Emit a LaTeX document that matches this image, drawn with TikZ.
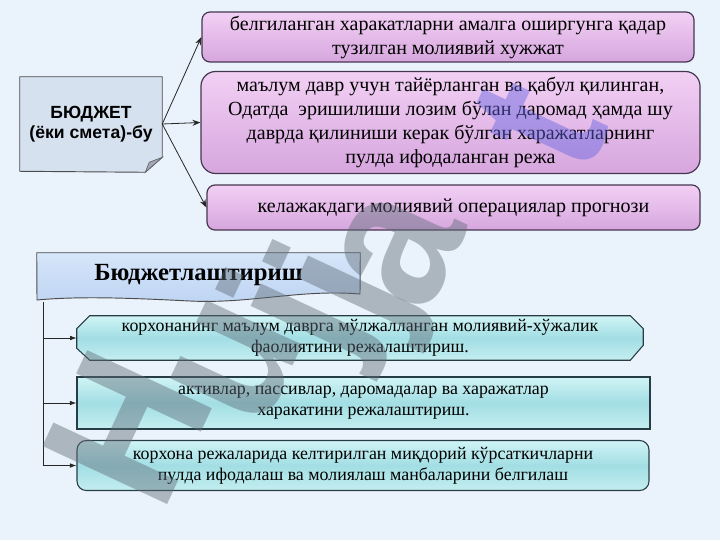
\documentclass[tikz,border=0pt]{standalone}
\usepackage{fontspec}
\setmainfont{Liberation Serif}
\setsansfont{Liberation Sans}
\usetikzlibrary{arrows.meta,backgrounds}
\definecolor{bg}{RGB}{234,243,251}
\definecolor{pTop}{RGB}{242,208,244}
\definecolor{pBot}{RGB}{214,166,222}
\definecolor{pDraw}{RGB}{70,55,80}
\definecolor{tTop}{RGB}{208,244,245}
\definecolor{tMid}{RGB}{162,222,228}
\definecolor{tBot}{RGB}{196,238,240}
\definecolor{tDraw}{RGB}{40,60,70}
\definecolor{noteFill}{RGB}{214,225,240}
\definecolor{foldFill}{RGB}{160,168,184}
\definecolor{banTop}{RGB}{214,230,250}
\definecolor{banBot}{RGB}{190,212,242}
\definecolor{wmGray}{RGB}{95,108,120}
\definecolor{wmBlue}{RGB}{100,100,225}
\tikzset{
  pbox/.style={draw=pDraw, line width=0.9pt, top color=pTop, bottom color=pBot,
    align=center, inner sep=0pt, font=\fontsize{15}{18}\selectfont},
  tshade/.style={draw=tDraw, line width=0.8pt, top color=tTop, bottom color=tBot, middle color=tMid},
  tbox/.style={align=center, inner sep=0pt, font=\fontsize{13.4}{15.75}\selectfont},
  arr/.style={-{Stealth[length=6pt,width=4.5pt]}, line width=0.6pt, draw=black!85},
  barr/.style={-{Latex[length=5pt,width=3.5pt]}, line width=0.6pt, draw=black!85},
  wmletter/.style={opacity=0.45, text=wmGray, inner sep=0pt, rotate=65, xscale=0.9,
    font=\sffamily\bfseries\fontsize{150}{150}\selectfont}
}
\begin{document}
\begin{tikzpicture}[x=0.75pt,y=-0.75pt]
\useasboundingbox (0,0) rectangle (720,540);
% purple boxes
\node[pbox, rounded corners=6pt, minimum width=369pt, minimum height=37.5pt] (b1) at (448,37)
  {белгиланган харакатларни амалга оширгунга қадар\\тузилган молиявий хужжат};
\node[pbox, rounded corners=11pt, minimum width=374.25pt, minimum height=76.5pt] (b2) at (450.5,122.5)
  {маълум давр учун тайёрланган ва қабул қилинган,\\Одатда~ эришилиши лозим бўлан даромад ҳамда шу\\даврда қилиниши керак бўлган харажатларнинг\\пулда ифодаланган режа};
\node[pbox, rounded corners=6pt, minimum width=369.75pt, minimum height=33.75pt] (b3) at (453.5,207.5)
  {келажакдаги молиявий операциялар прогнози};
% note
\node[minimum width=106.5pt, minimum height=72pt, inner sep=0pt, align=center,
  font=\sffamily\bfseries\fontsize{13.2}{15}\selectfont] (note) at (91,124) {БЮДЖЕТ\\(ёки смета)-бу};
% banner text
\node[minimum width=242.25pt, minimum height=33pt, inner sep=0pt,
  font=\bfseries\fontsize{18.5}{22}\selectfont] (ban) at (198.5,275) {Бюджетлаштириш};
% teal boxes
\node[tbox, minimum width=424.5pt, minimum height=33pt] (bA) at (360,338)
  {корхонанинг маълум даврга мўлжалланган молиявий-хўжалик\\фаолиятини режалаштириш.};
\node[tbox, tshade, minimum width=429.75pt, minimum height=39pt] (bB) at (363.5,403)
  {активлар, пассивлар, даромадалар ва харажатлар\\харакатини режалаштириш.};
\node[tbox, tshade, rounded corners=7pt, minimum width=429pt, minimum height=37.5pt] (bC) at (363,465.5)
  {корхона режаларида келтирилган миқдорий кўрсаткичларни\\пулда ифодалаш ва молиялаш манбаларини белгилаш};
\begin{pgfonlayer}{background}
  \fill[bg] (0,0) rectangle (720,540);
  % note shape
  \fill[noteFill, draw=black!70, line width=0.7pt] ([yshift=-0.75pt]note.north west) -- ([yshift=-0.75pt]note.north east)
    -- ([shift={(0,-15)}]note.south east) -- ([shift={(-17,0)}]note.south east)
    -- ([yshift=0.75pt]note.south west) -- cycle;
  \fill[foldFill, draw=black!60, line width=0.5pt] ([shift={(0,-15)}]note.south east)
    -- ([shift={(-17,0)}]note.south east) -- ([shift={(-13,-10)}]note.south east) -- cycle;
  % banner shape
  \path[draw=black!70, line width=0.7pt, top color=banTop, bottom color=banBot]
    (ban.north west) -- (ban.north east) -- (360,294)
    .. controls (300,289) and (250,304) .. (190,301)
    .. controls (130,298) and (80,296) .. (37,300) -- cycle;
  % chamfered box A
  \path[tshade] ([shift={(13,0)}]bA.north west) -- ([shift={(-13,0)}]bA.north east)
    -- ([shift={(0,13)}]bA.north east) -- ([shift={(0,-15)}]bA.south east)
    -- ([shift={(-13,0)}]bA.south east) -- ([shift={(13,0)}]bA.south west)
    -- ([shift={(0,-12)}]bA.south west) -- ([shift={(0,13)}]bA.north west) -- cycle;
\end{pgfonlayer}
% connectors
\draw[arr] (note.east) -- (b1.west);
\draw[arr] (note.east) -- (b2.west);
\draw[arr] (note.east) -- (b3.west);
\coordinate (bt) at (43,302);
\coordinate (jA) at (bt |- bA.west);
\coordinate (jB) at (bt |- bB.west);
\draw[line width=0.6pt, draw=black!85] (bt) -- (jA);
\draw[barr] (jA) -- (bA.west);
\draw[barr] (jB) -- (bB.west);
\draw[barr] (bt) |- (bC.west);
% watermark
\node[wmletter] (wmH) at (128,428) {H};
\node[wmletter] (wmU) at (238,362) {u};
\node[wmletter] (wmJ1) at (305,318) {j};
\node[wmletter] (wmJ2) at (352,290) {j};
\node[wmletter] (wmA) at (400,250) {a};
\node[wmletter, text=wmBlue] (wmT) at (540,125) {t};
\end{tikzpicture}
\end{document}
